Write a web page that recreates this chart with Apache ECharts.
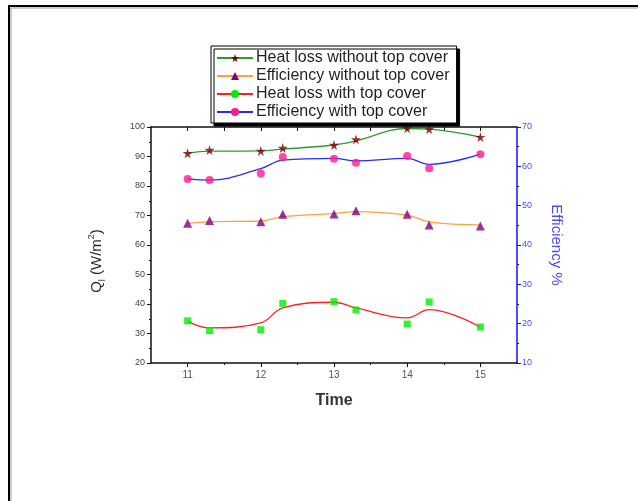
<!DOCTYPE html>
<html>
<head>
<meta charset="utf-8">
<script src="https://cdn.jsdelivr.net/npm/echarts@6/dist/echarts.min.js"></script>
<style>
html,body{margin:0;padding:0;background:#fff;}
#main{width:638px;height:501px;}
</style>
</head>
<body>
<div id="main"></div>
<script>
const times = [11, 11.3, 12, 12.3, 13, 13.3, 14, 14.3, 15];
const xTickLabels = [11, 12, 13, 14, 15];
const xMinorTicks = [11.5, 12.5, 13.5, 14.5];

const heatLossNoCover    = [91.1, 92.2, 91.9, 92.9, 93.9, 95.8, 99.6, 99.3, 96.6];
const heatLossNoCoverFit = [91.1, 91.8, 91.9, 92.5, 93.9, 95.3, 99.5, 99.3, 96.6];
const effNoCover         = [45.5, 46.2, 45.9, 47.8, 47.9, 48.7, 47.8, 45.1, 44.8];
const effNoCoverFit      = [45.5, 45.9, 46.1, 47.2, 48.0, 48.5, 47.6, 45.9, 45.1];
const heatLossCover      = [34.3, 31.0, 31.3, 40.2, 40.8, 38.0, 33.2, 40.7, 32.2];
const heatLossCoverFit   = [34.1, 31.9, 33.6, 38.7, 40.6, 38.7, 35.3, 38.1, 32.2];
const effCover           = [56.8, 56.5, 58.2, 62.4, 61.9, 60.9, 62.6, 59.5, 63.1];
const effCoverFit        = [56.8, 56.5, 59.4, 61.6, 62.0, 61.4, 62.0, 60.5, 63.1];

const names = ['Heat loss without top cover', 'Efficiency without top cover', 'Heat loss with top cover', 'Efficiency with top cover'];

const pair = arr => arr.map((v, i) => [times[i], v]);
const STAR = 'path://M50,0 L61,35 L98,35 L68,57 L79,91 L50,70 L21,91 L32,57 L2,35 L39,35 Z';

function lineSeries(name, fit, yIdx, lineColor, symbol, symColor) {
  return {
    name: name, type: 'line', yAxisIndex: yIdx, data: pair(fit),
    smooth: 0.4, showSymbol: false, symbol: symbol, symbolSize: 8,
    itemStyle: {color: symColor}, lineStyle: {color: lineColor, width: 1.3},
    z: 2, silent: true
  };
}
function markSeries(name, vals, yIdx, symbol, color, size) {
  return {
    name: name + ' pts', type: 'scatter', yAxisIndex: yIdx, data: pair(vals),
    symbol: symbol, symbolSize: size, itemStyle: {color: color}, z: 3, silent: true
  };
}

const chart = echarts.init(document.getElementById('main'));
chart.setOption({
  animation: false,
  backgroundColor: '#fff',
  textStyle: {fontFamily: 'Liberation Sans, Arial, sans-serif'},
  graphic: [
    {type: 'rect', shape: {x: 9, y: 6, width: 700, height: 600}, style: {fill: 'none', stroke: '#000', lineWidth: 2}},
    {type: 'rect', shape: {x: 11, y: 8, width: 700, height: 600}, style: {fill: 'none', stroke: '#999', lineWidth: 1}}
  ],
  legend: {
    data: names,
    orient: 'vertical',
    left: 211, top: 46,
    padding: [4, 7, 3, 5],
    itemGap: 2,
    itemWidth: 36, itemHeight: 10,
    backgroundColor: '#fff',
    borderColor: '#000', borderWidth: 1,
    shadowColor: '#000', shadowOffsetX: 3, shadowOffsetY: 3, shadowBlur: 0,
    textStyle: {fontSize: 16, color: '#1e1e28', lineHeight: 16, padding: [0, 0, 0, -2]},
    selectedMode: false
  },
  grid: {left: 151, right: 121, top: 127, bottom: 138, containLabel: false},
  xAxis: [
    {
      type: 'value', position: 'bottom', min: 10.5, max: 15.5,
      name: 'Time', nameLocation: 'middle', nameGap: 30,
      nameTextStyle: {fontSize: 16, fontWeight: 'bold', color: '#333'},
      axisLine: {lineStyle: {color: '#111', width: 1.5}},
      axisTick: {customValues: xTickLabels, length: 4, lineStyle: {color: '#111'}},
      axisLabel: {customValues: xTickLabels, fontSize: 10, color: '#555', margin: 7},
      splitLine: {show: false}
    },
    {
      type: 'value', position: 'bottom', min: 10.5, max: 15.5,
      axisLine: {show: false},
      axisTick: {customValues: xMinorTicks, length: 2, lineStyle: {color: '#111'}},
      axisLabel: {show: false},
      splitLine: {show: false}
    },
    {
      type: 'value', position: 'top', min: 10.5, max: 15.5,
      axisLine: {lineStyle: {color: '#111', width: 1.5}},
      axisTick: {customValues: [11, 11.5, 12, 12.5, 13, 13.5, 14, 14.5, 15], inside: true, length: 4, lineStyle: {color: '#111'}},
      axisLabel: {show: false},
      splitLine: {show: false}
    }
  ],
  yAxis: [
    {
      type: 'value', position: 'left', min: 20, max: 100, interval: 10,
      name: '{q|Q}{s|l}{q| (W/m}{p|2}{q|)}', nameLocation: 'middle', nameGap: 44, nameRotate: 90,
      nameTextStyle: {
        color: '#2a2a2a', padding: [0, 32, 0, 0],
        rich: {
          q: {fontSize: 15, color: '#2a2a2a', lineHeight: 20},
          s: {fontSize: 9, color: '#2a2a2a', verticalAlign: 'bottom', lineHeight: 14},
          p: {fontSize: 9, color: '#2a2a2a', verticalAlign: 'top', lineHeight: 14}
        }
      },
      axisLine: {show: true, lineStyle: {color: '#111', width: 1.5}},
      axisTick: {show: true, length: 4, lineStyle: {color: '#111'}},
      minorTick: {show: true, splitNumber: 2, length: 2, lineStyle: {color: '#111'}},
      axisLabel: {fontSize: 9, color: '#444', margin: 6},
      splitLine: {show: false}
    },
    {
      type: 'value', position: 'right', min: 10, max: 70, interval: 10,
      name: 'Efficiency %', nameLocation: 'middle', nameGap: 32, nameRotate: -90,
      nameTextStyle: {fontSize: 15, color: '#4b4bff'},
      axisLine: {show: true, lineStyle: {color: '#1010ff', width: 1.5}},
      axisTick: {show: true, length: 4, lineStyle: {color: '#1010ff'}},
      minorTick: {show: true, splitNumber: 2, length: 2, lineStyle: {color: '#1010ff'}},
      axisLabel: {fontSize: 9, color: '#4a4aff', margin: 5},
      splitLine: {show: false}
    }
  ],
  series: [
    lineSeries(names[0], heatLossNoCoverFit, 0, '#2f9a2f', STAR, '#7a0000'),
    lineSeries(names[1], effNoCoverFit, 1, '#ffa040', 'triangle', '#800080'),
    lineSeries(names[2], heatLossCoverFit, 0, '#ff2020', 'circle', '#00ee00'),
    lineSeries(names[3], effCoverFit, 1, '#2a2aff', 'circle', '#ff1a8c'),
    markSeries(names[0], heatLossNoCover, 0, STAR, '#7a0000', 10),
    markSeries(names[1], effNoCover, 1, 'triangle', '#800080', 9),
    markSeries(names[2], heatLossCover, 0, 'rect', '#00ee00', 7),
    markSeries(names[3], effCover, 1, 'circle', '#ff1a8c', 8)
  ]
});
</script>
</body>
</html>
